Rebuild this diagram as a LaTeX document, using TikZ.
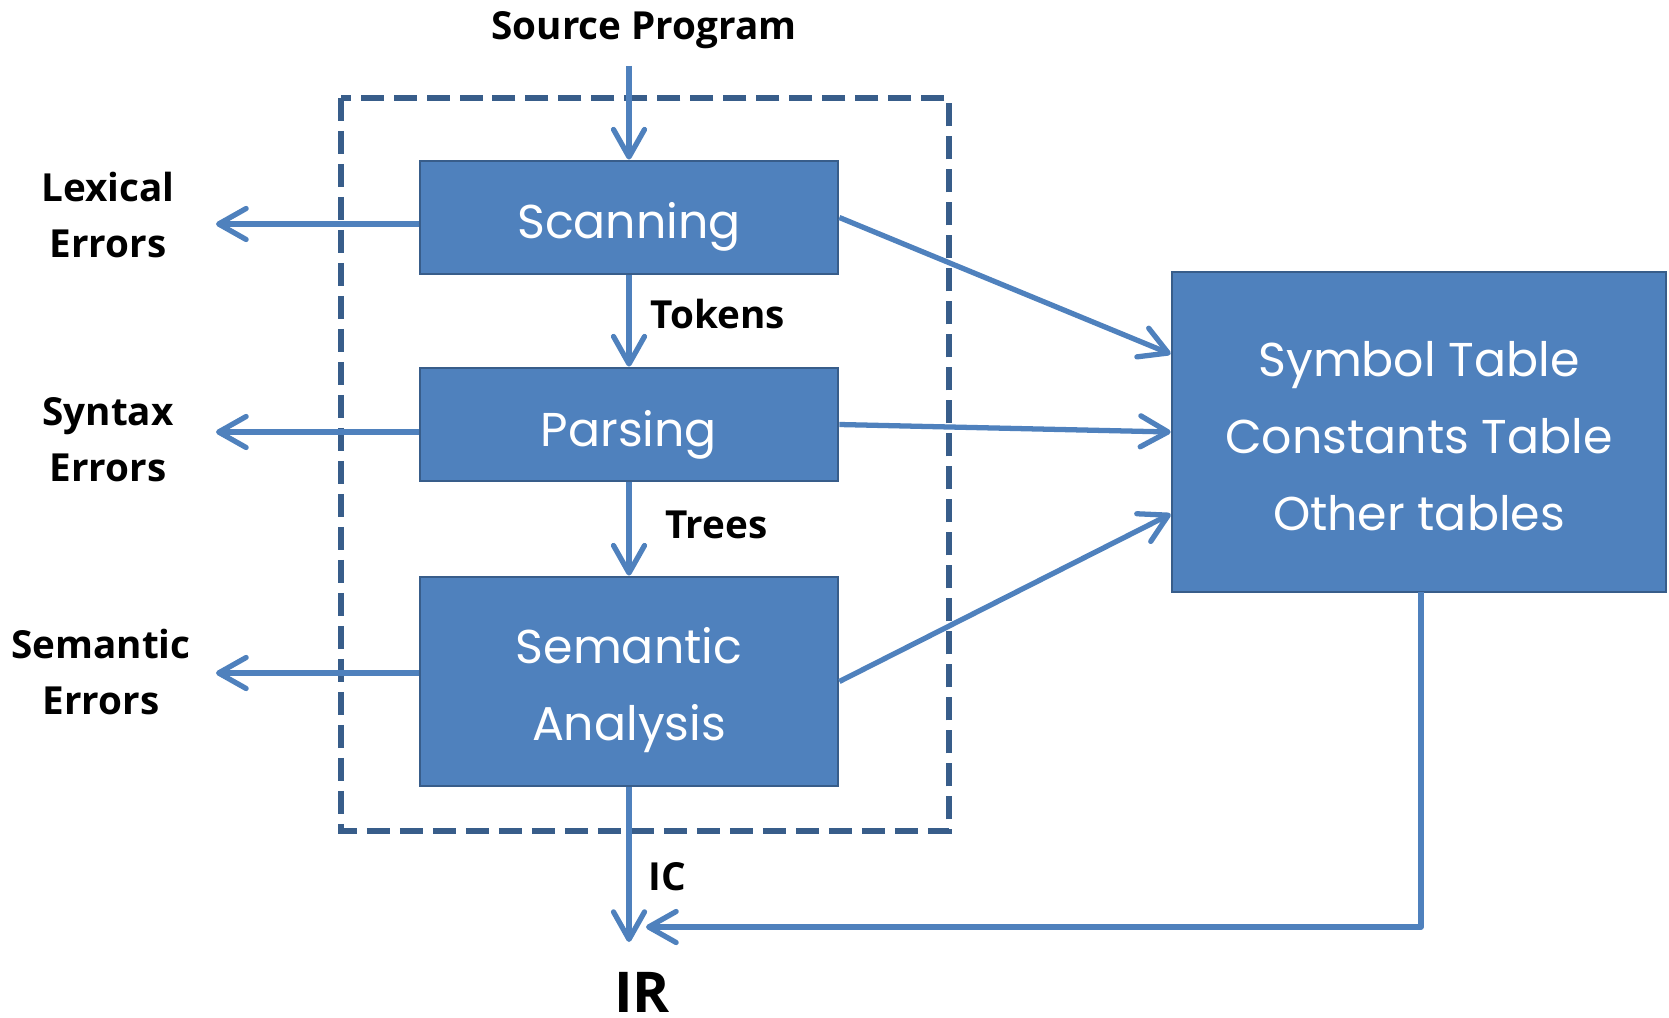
\documentclass[tikz,border=0pt]{standalone}
\usepackage{fontspec}
\setmainfont{Poppins}
\newfontfamily\labelfont{Open Sans}
\usetikzlibrary{arrows.meta}
\definecolor{boxblue}{HTML}{4F81BD}
\definecolor{boxedge}{HTML}{385D8A}
\begin{document}
\begin{tikzpicture}[
    x=0.02cm, y=-0.02cm,
    stage/.style={draw=boxedge, fill=boxblue, line width=1.6pt, text=white,
                  font=\fontsize{27}{44}\selectfont, align=center, inner sep=0pt},
    flow/.style={draw=boxblue, line width=3pt,
                 -{Straight Barb[length=0.55cm, width=0.62cm, round]}},
    frontend/.style={draw=boxedge, line width=3.2pt, dash pattern=on 0.46cm off 0.2cm},
    lbl/.style={font=\labelfont\bfseries\fontsize{22}{32}\selectfont, align=center, inner sep=0pt},
  ]
  \useasboundingbox (0,0) rectangle (1669,1017);
  % front end
  \draw[frontend] (341,98) rectangle (949,831);
  \node[stage, minimum width=8.36cm, minimum height=2.26cm,
        text height=0.86cm, text depth=0cm] (scan) at (629,217.5) {Scanning};
  \node[stage, minimum width=8.36cm, minimum height=2.26cm,
        text height=0.86cm, text depth=0cm] (parse) at (629,424.5) {Parsing};
  \node[stage, minimum width=8.36cm, minimum height=4.18cm,
        text height=2.38cm, text depth=0cm] (sem) at (629,681.5) {Semantic\\Analysis};
  \node[stage, minimum width=9.88cm, minimum height=6.4cm,
        text height=3.96cm, text depth=0cm] (tab) at (1419,432)
    {Symbol Table\\Constants Table\\Other tables};
  % labels
  \node[lbl] (src) at (644,30) {Source Program};
  \node[lbl] (lex) at (108,215) {Lexical\\Errors};
  \node[lbl] (syn) at (108,440) {Syntax\\Errors};
  \node[lbl] (smt) at (101,672) {Semantic\\Errors};
  \node[lbl, anchor=west] (tok) at (650,314) {Tokens};
  \node[lbl, anchor=west] (tre) at (665,525) {Trees};
  \node[lbl, anchor=west] (ic) at (648,877) {IC};
  \node[lbl, font=\labelfont\bfseries\fontsize{32}{36}\selectfont,
        anchor=base, text depth=0pt] (ir) at (642,1012) {IR};
  % free ends
  \coordinate (srcout) at (629,66);
  \coordinate (lexend) at (216,224);
  \coordinate (synend) at (216,432);
  \coordinate (smtend) at (216,673);
  \coordinate (icend) at (629,942);
  \coordinate (tabout) at (1421,592);
  \coordinate (fbend) at (646,927);
  % connectors
  \draw[flow] (srcout) -- (scan.north);
  \draw[flow] (scan) -- (parse);
  \draw[flow] (parse) -- (sem);
  \draw[flow] (sem.south) -- (icend);
  \draw[flow] (scan.west |- lexend) -- (lexend);
  \draw[flow] (parse.west |- synend) -- (synend);
  \draw[flow] (sem.west |- smtend) -- (smtend);
  \draw[flow] (scan.east) -- ([yshift=1.56cm]tab.west);
  \draw[flow] (parse.east) -- (tab.west);
  \draw[flow] (sem.east) -- ([yshift=-1.64cm]tab.west);
  \draw[flow, line join=round] (tabout) |- (fbend);
\end{tikzpicture}
\end{document}
